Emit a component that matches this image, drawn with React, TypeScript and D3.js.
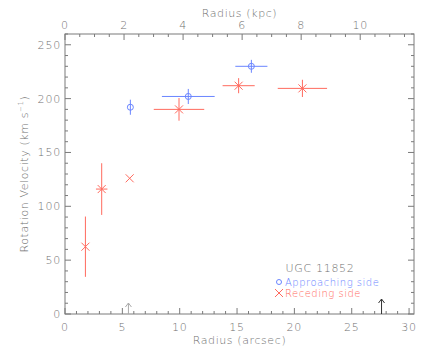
import React from "react";
import * as d3 from "d3";

const approachR = [5.7, 10.75, 16.25];
const approachV = [192, 202, 230];
const approachRErr = [0, 2.3, 1.4];
const approachVErr = [7, 7, 6];

const recedeR = [1.78, 3.2, 5.64, 9.94, 15.14, 20.7];
const recedeV = [62.5, 116, 126, 190, 212, 209.5];
const recedeRErr = [0, 0.5, 0, 2.2, 1.4, 2.15];
const recedeVErr = [28, 24, 0, 10.5, 7, 8];

const bottomTicks = [0, 5, 10, 15, 20, 25, 30];
const topTicks = [0, 2, 4, 6, 8, 10];
const leftTicks = [0, 50, 100, 150, 200, 250];
const arrowsR = [5.53, 27.6];

const W = 436, H = 349;
const L = 65, R = 414, T = 34, B = 314;
const kpcPerArcsec = 0.3885;

export default function App() {
  const x = d3.scaleLinear().domain([0, 30.43]).range([L, R]);
  const xk = d3.scaleLinear().domain([0, 30.43 * kpcPerArcsec]).range([L, R]);
  const y = d3.scaleLinear().domain([0, 260]).range([B, T]);
  const axisCol = "#7a7a7a";
  const textCol = "#707070";
  const blue = "#6a85ff";
  const red = "#ff6a5e";
  const font = "DejaVu Sans, sans-serif";
  const fw = 200;

  const minorX = d3.range(0, 31, 1);
  const minorK = d3.range(0, 11.8, 0.5);
  const minorY = d3.range(0, 261, 10);

  return (
    <svg width={W} height={H} style={{ position: "absolute", left: 0, top: 0 }} fontFamily={font} fontWeight={fw}>
      <rect width={W} height={H} fill="#fff" />
      <rect x={L} y={T} width={R - L} height={B - T} fill="none" stroke={axisCol} strokeWidth={1} />
      {minorX.map((v) => {
        const major = v % 5 === 0;
        return <line key={"bx" + v} x1={x(v)} x2={x(v)} y1={B} y2={B - (major ? 6 : 3)} stroke={axisCol} />;
      })}
      {bottomTicks.map((v) => (
        <text key={"bl" + v} x={x(v)} y={B + 17} textAnchor="middle" fontSize={11} letterSpacing={0.8} fill={textCol}>{v}</text>
      ))}
      {minorK.map((v) => {
        const major = Math.abs(v % 2) < 1e-6;
        return <line key={"tx" + v} x1={xk(v)} x2={xk(v)} y1={T} y2={T + (major ? 6 : 3)} stroke={axisCol} />;
      })}
      {topTicks.map((v) => (
        <text key={"tl" + v} x={xk(v)} y={T - 5} textAnchor="middle" fontSize={11} letterSpacing={0.8} fill={textCol}>{v}</text>
      ))}
      {minorY.map((v) => {
        const major = v % 50 === 0;
        return (
          <g key={"y" + v}>
            <line x1={L} x2={L + (major ? 6 : 3)} y1={y(v)} y2={y(v)} stroke={axisCol} />
            <line x1={R} x2={R - (major ? 6 : 3)} y1={y(v)} y2={y(v)} stroke={axisCol} />
          </g>
        );
      })}
      {leftTicks.map((v) => (
        <text key={"ll" + v} x={L - 4} y={y(v) + 4} textAnchor="end" fontSize={11} letterSpacing={0.8} fill={textCol}>{v}</text>
      ))}
      <text x={(L + R) / 2} y={344} textAnchor="middle" fontSize={11} letterSpacing={0.6} fill={textCol}>Radius (arcsec)</text>
      <text x={(L + R) / 2} y={17} textAnchor="middle" fontSize={11} letterSpacing={0.6} fill={textCol}>Radius (kpc)</text>
      <text transform={`translate(28,${(T + B) / 2}) rotate(-90)`} textAnchor="middle" fontSize={11} letterSpacing={0.6} fill={textCol}>
        Rotation Velocity (km s<tspan dy={-5} fontSize={7}>−1</tspan><tspan dy={5}>)</tspan>
      </text>
      {approachR.map((r, i) => (
        <g key={"a" + i} stroke={blue} fill="none" strokeWidth={1}>
          {approachRErr[i] > 0 && <line x1={x(r - approachRErr[i])} x2={x(r + approachRErr[i])} y1={y(approachV[i])} y2={y(approachV[i])} />}
          <line x1={x(r)} x2={x(r)} y1={y(approachV[i] - approachVErr[i])} y2={y(approachV[i] + approachVErr[i])} />
          <circle cx={x(r)} cy={y(approachV[i])} r={3} />
        </g>
      ))}
      {recedeR.map((r, i) => {
        const cx = x(r), cy = y(recedeV[i]);
        return (
          <g key={"r" + i} stroke={red} fill="none" strokeWidth={1}>
            {recedeRErr[i] > 0 && <line x1={x(r - recedeRErr[i])} x2={x(r + recedeRErr[i])} y1={cy} y2={cy} />}
            {recedeVErr[i] > 0 && <line x1={cx} x2={cx} y1={y(recedeV[i] - recedeVErr[i])} y2={y(recedeV[i] + recedeVErr[i])} />}
            <line x1={cx - 4} x2={cx + 4} y1={cy - 4} y2={cy + 4} />
            <line x1={cx - 4} x2={cx + 4} y1={cy + 4} y2={cy - 4} />
          </g>
        );
      })}
      {arrowsR.map((r, i) => {
        const col = i === 0 ? "#aaaaaa" : "#333";
        const ax = x(r);
        const top = i === 0 ? 303 : 299;
        return (
          <g key={"ar" + i} stroke={col} fill="none">
            <line x1={ax} x2={ax} y1={B} y2={top} />
            <polyline points={`${ax - 3},${top + 4} ${ax},${top} ${ax + 3},${top + 4}`} />
          </g>
        );
      })}
      <text x={320} y={272} textAnchor="middle" fontSize={11} letterSpacing={0.7} fill={textCol}>UGC 11852</text>
      <circle cx={279} cy={282} r={2.5} fill="none" stroke={blue} />
      <text x={285} y={285.5} fontSize={10} letterSpacing={0.5} fill={blue}>Approaching side</text>
      <g stroke={red}>
        <line x1={275} x2={283} y1={289} y2={297} />
        <line x1={275} x2={283} y1={297} y2={289} />
      </g>
      <text x={285} y={296.5} fontSize={10} letterSpacing={0.5} fill={red}>Receding side</text>
    </svg>
  );
}
